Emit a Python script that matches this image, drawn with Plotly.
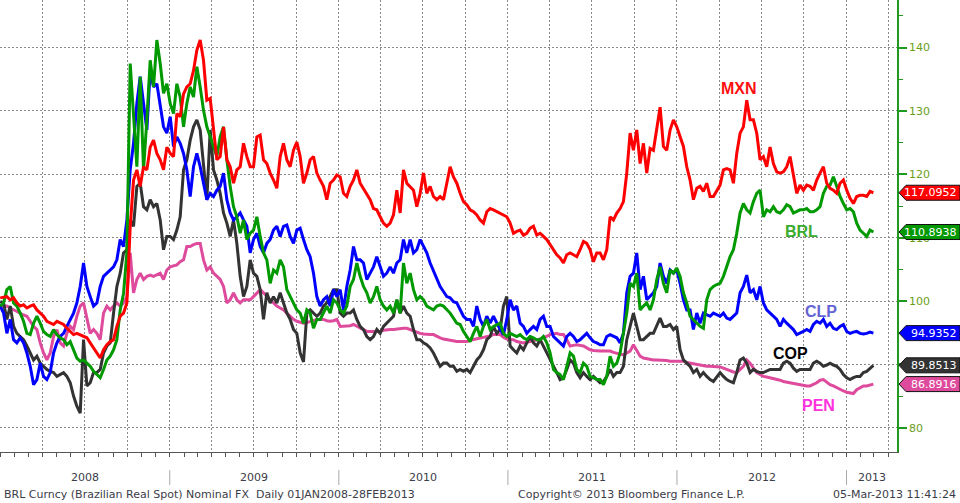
import pandas as pd
import plotly.graph_objects as go

# ---------------- data (index, start = 100) ----------------
N_POINTS = 263
START_DATE = "2008-01-01"
END_DATE = "2013-02-28"

mxn = [
    100.5,100.6,100.7,100.2,100.5,99.7,99.2,99.4,98.9,99.2, 99.4,98.6,98.1,97.6,96.8,96.5,96.3,96.8,96.5,96.3,
    95.7,95.2,94.7,94.9,94.7,94.4,94.2,93.4,92.6,91.8, 91.0,92.3,93.1,93.6,93.9,96.0,97.6,98.1,99.7,111.7,
    119.1,120.7,118.1,121.2,120.7,124.3,125.4,123.3,122.3,120.7, 124.3,
    123.3,122.8,129.6,129.1,132.7,133.8,134.3,136.4,139.6,141.2, 138.0,131.7,132.0,127.0,122.3,122.8,127.5,122.3,121.2,118.6,
    120.7,121.2,124.9,122.8,121.2,121.2,125.9,126.2,122.3,121.7, 120.2,119.1,117.8,122.8,124.9,122.3,121.2,123.8,125.1,122.8,
    118.6,120.2,122.3,122.8,120.2,119.1,118.1,116.0,118.6,119.1, 119.9,
    119.6,117.0,116.5,118.1,119.1,120.7,118.6,117.8,117.0,116.0, 114.6,114.4,113.3,112.3,111.8,112.3,113.6,117.5,113.9,120.7,
    118.6,118.1,117.5,114.9,117.0,120.2,117.0,118.1,116.5,116.0, 116.5,116.0,118.6,121.2,119.6,118.6,117.0,115.7,115.2,114.4,
    114.1,113.6,112.8,112.3,114.1,114.6,114.4,114.1,113.9,113.6, 113.3,
    112.3,110.7,111.0,111.2,110.4,110.7,111.5,111.8,110.4,110.7, 110.2,109.7,108.9,108.1,107.3,106.8,106.0,107.3,107.6,107.3,
    107.0,108.1,109.4,109.1,108.1,106.2,107.6,107.6,106.5,108.1, 113.3,112.8,113.9,114.6,115.7,120.2,126.5,123.8,127.0,121.7,
    124.9,120.2,124.1,123.8,127.0,130.6,124.4,123.8,127.0,128.6, 127.5,125.9,124.4,121.2,
    119.1,116.0,117.8,118.1,117.3,118.6,116.5,116.5,117.5,118.3, 120.7,120.9,120.7,118.6,123.3,126.5,127.5,131.7,128.6,128.6,
    126.5,122.3,122.8,121.2,124.3,121.7,120.4,120.2,120.4,121.2, 122.8,119.6,117.0,118.3,117.5,118.3,118.1,117.5,119.1,120.2,
    121.2,118.6,117.8,117.5,117.0,118.6,119.1,117.5,116.2,115.4, 116.5,116.7,116.7,116.5,117.3,117.0952,
]

brl = [
    99.2,99.7,101.8,102.3,99.7,99.2,98.1,96.8,94.9,94.7, 96.5,97.6,96.5,95.2,94.7,94.4,95.5,94.7,94.2,93.9,
    93.1,93.6,92.3,91.0,90.5,90.7,90.2,89.7,88.9,88.4, 87.9,89.2,90.7,91.3,92.3,93.9,98.6,101.2,107.6,137.5,
    129.1,121.2,135.4,120.7,128.6,138.0,133.8,141.2,137.5,132.8, 134.3,
    131.2,129.6,134.3,132.2,127.5,131.2,133.8,132.2,137.0,133.8, 130.1,127.5,125.9,124.4,122.8,125.9,127.5,122.3,118.1,114.9,
    113.3,110.7,112.8,109.7,110.7,111.2,113.3,110.2,107.6,106.5, 102.8,104.9,104.4,106.5,105.4,101.8,100.7,99.7,98.6,98.1,
    96.5,98.6,98.1,95.7,97.1,97.1,98.1,99.2,98.1,100.2, 99.7,
    98.6,98.1,99.2,102.3,103.4,106.0,103.9,102.3,101.3,99.7, 100.7,102.3,100.2,99.2,98.6,99.2,98.1,100.2,98.1,106.0,
    102.8,104.4,101.8,100.2,100.7,100.2,99.2,98.9,98.6,99.2, 99.4,99.2,98.6,98.1,97.3,96.5,96.3,95.2,94.4,93.6,
    94.9,96.0,94.4,96.0,97.1,95.5,96.0,96.3,96.5,94.9, 94.4,
    94.9,94.7,94.4,94.7,94.2,93.9,94.4,94.2,93.9,93.9, 94.4,93.4,91.8,89.2,88.7,88.4,87.6,89.7,91.8,91.3,
    89.2,88.7,90.2,89.7,88.1,87.9,87.6,87.6,86.8,88.1, 91.3,89.7,90.2,91.8,94.9,98.1,102.8,102.3,104.4,98.6,
    99.2,99.7,98.6,100.2,103.4,105.4,102.8,101.3,104.9,104.4, 105.2,103.9,101.3,99.7,
    97.6,97.1,96.5,96.0,95.7,100.2,101.8,102.3,102.6,102.8, 103.9,105.4,107.0,108.1,110.7,113.9,115.4,114.4,113.9,115.7,
    117.0,117.5,113.3,114.4,114.1,114.9,114.1,113.9,114.4,115.2, 114.9,113.9,114.1,114.4,114.4,114.6,114.1,114.1,114.4,114.9,
    117.0,118.1,118.3,119.6,118.1,116.5,115.4,114.4,114.6,114.1, 112.3,111.2,110.7,110.2,111.2,110.8938,
]

clp = [
    99.2,98.1,94.9,97.1,93.9,93.4,94.2,93.4,91.8,89.7, 86.8,87.6,90.2,88.1,87.6,88.7,91.8,93.4,94.4,94.9,
    96.0,97.1,98.1,99.7,102.3,106.0,102.3,100.7,99.2,99.7, 102.3,103.9,104.4,104.9,105.4,106.5,109.7,108.6,112.8,120.7,
    124.9,131.2,135.4,131.2,127.0,136.4,133.8,134.3,131.2,127.5, 126.5,
    129.1,124.4,125.9,124.9,123.3,120.7,116.5,121.2,123.3,121.2, 118.6,116.0,117.0,116.5,117.5,118.1,120.2,116.0,113.9,112.8,
    113.3,113.9,112.8,111.8,107.6,109.7,110.7,108.6,107.6,109.1, 109.7,111.2,111.8,110.2,111.8,112.0,110.2,109.1,111.2,111.5,
    109.7,108.1,107.0,104.4,100.7,99.2,100.2,100.7,99.2,101.8, 100.7,
    101.8,98.6,102.3,104.9,108.6,106.5,106.5,106.0,103.4,104.4, 105.4,107.0,105.4,103.9,104.4,105.4,104.4,106.0,106.5,109.7,
    107.6,109.7,107.6,108.1,109.7,108.6,107.6,106.0,104.7,103.6, 102.3,101.5,100.7,100.5,99.9,99.7,98.6,97.6,97.1,97.1,
    96.0,99.2,97.1,96.0,97.6,96.5,97.6,96.5,95.5,94.7, 97.1,
    100.2,98.6,99.2,96.5,96.0,94.9,95.5,96.0,95.5,97.1, 97.6,96.0,96.0,94.4,93.9,93.4,92.9,94.4,94.9,94.4,
    93.6,93.9,94.4,94.9,94.2,93.6,93.4,93.1,93.1,94.4, 94.7,94.4,94.2,93.4,94.9,101.3,103.9,104.4,107.6,101.8,
    103.9,100.2,100.7,101.3,102.3,106.0,103.9,102.8,104.9,104.4, 104.9,102.8,100.2,98.6,
    98.6,95.5,98.1,96.5,98.1,97.8,97.6,98.1,97.8,97.6, 98.1,97.3,97.1,97.6,98.1,101.3,102.3,104.1,101.3,101.8,
    100.2,102.3,99.7,98.6,98.1,97.6,97.1,96.0,97.1,96.5, 96.0,95.5,94.7,94.9,95.2,95.5,95.2,96.3,96.8,96.5,
    97.1,96.0,96.5,95.7,95.5,96.0,96.3,95.2,94.9,95.1, 95.2,94.9,94.8,94.9,95.1,94.9352,
]

cop = [
    99.9,99.7,97.1,99.2,96.0,94.9,94.4,93.9,92.9,91.8, 90.7,91.3,90.2,89.7,89.2,88.9,88.7,88.1,88.4,88.7,
    88.1,87.1,85.0,83.4,82.3,93.9,86.6,87.1,88.7,88.7, 89.2,91.8,92.9,93.4,98.1,102.3,104.4,107.6,108.1,112.8,
    111.8,118.1,118.6,114.9,114.4,116.0,114.9,115.4,112.8,108.1, 110.2,
    110.2,109.7,111.2,113.3,120.7,122.3,125.4,127.5,128.6,127.0, 121.2,116.0,127.0,120.7,119.1,117.0,113.9,112.3,110.2,112.8,
    109.1,103.9,100.7,102.3,106.5,104.4,103.9,101.8,97.1,101.3, 99.7,100.7,99.7,101.3,99.7,98.1,97.1,95.5,94.9,91.8,
    90.4,98.1,98.6,98.1,97.6,98.1,99.2,99.7,100.7,101.8, 101.8,
    98.1,97.6,98.1,98.1,98.6,97.1,96.0,95.5,94.4,93.9, 94.4,95.5,94.9,96.0,96.5,97.1,97.6,100.2,98.1,99.2,
    98.1,97.6,95.5,93.9,93.9,93.4,93.1,92.6,91.8,90.7, 89.7,90.2,90.2,89.7,89.7,88.9,89.2,88.9,89.2,88.7,
    89.7,90.7,91.3,92.3,93.9,94.4,96.0,94.9,95.5,99.2, 100.7,
    92.9,92.3,91.8,92.9,92.3,93.4,94.4,93.4,92.9,93.9, 92.9,91.8,90.7,89.7,88.7,87.6,87.9,89.2,90.7,90.2,
    88.7,87.9,88.7,88.1,87.6,88.1,87.6,87.1,87.3,88.1, 89.2,88.1,88.7,88.7,89.7,93.9,96.0,98.1,96.0,93.9,
    93.9,94.4,94.9,94.9,96.0,97.3,96.0,96.0,96.3,95.5, 96.0,92.3,90.7,90.2,
    89.7,88.7,89.2,88.1,88.7,88.1,87.6,87.3,88.1,88.7, 88.1,87.6,87.3,87.1,88.7,90.7,91.0,90.2,88.7,89.2,
    88.9,88.7,88.7,88.9,89.2,89.2,89.2,89.2,90.2,90.5, 90.2,89.4,88.9,89.2,89.2,89.2,89.2,90.2,90.5,90.2,
    89.7,89.9,90.2,89.9,89.7,89.2,88.4,87.9,87.6,87.9, 88.1,88.1,88.7,88.9,89.4,89.8513,
]

pen = [
    99.2,99.2,99.2,98.9,98.6,98.4,98.1,97.8,97.6,96.8, 96.0,95.5,93.4,91.8,90.7,91.8,94.4,95.5,93.4,92.9,
    94.9,96.0,95.5,97.6,99.2,99.7,97.1,94.9,95.5,94.9, 93.9,98.1,99.2,98.6,99.2,99.7,99.2,99.7,100.7,107.6,
    101.3,103.4,104.4,103.4,103.9,104.1,103.9,104.1,104.4,103.4, 104.9,
    105.4,105.6,105.7,106.2,106.5,108.6,108.6,108.9,109.1,109.1, 106.5,104.9,105.4,104.4,103.9,103.4,102.3,99.7,100.2,101.3,
    100.2,99.7,100.2,100.2,100.2,100.7,101.3,101.8,101.3,100.7, 100.2,99.7,99.2,98.9,98.6,98.1,97.6,97.1,96.8,96.6,
    96.5,96.6,96.8,96.9,97.1,97.1,97.1,96.9,96.8,96.9, 97.1,
    96.0,96.0,96.0,96.1,96.3,96.0,95.7,95.5,95.2,95.2, 95.2,95.2,95.2,95.4,95.5,95.5,95.5,95.6,95.7,95.7,
    95.7,95.5,95.2,95.1,94.9,94.8,94.7,94.7,94.7,94.4, 94.2,94.0,93.9,93.8,93.6,93.6,93.6,93.6,93.6,93.8,
    93.9,94.0,94.2,94.3,94.4,94.5,94.7,94.7,94.7,94.3, 94.0,
    93.9,93.9,93.6,93.5,93.4,93.5,93.6,93.8,93.9,94.0, 94.2,94.5,94.7,94.8,94.9,94.7,94.7,93.9,92.9,93.0,
    93.1,93.0,92.9,92.6,92.3,92.2,92.1,92.1,92.1,92.1, 92.1,91.9,91.8,91.6,91.5,91.8,92.1,93.1,92.1,91.3,
    91.0,90.9,90.7,90.7,90.7,90.7,90.7,90.6,90.5,90.5, 90.5,90.5,90.5,90.3,
    90.2,90.1,90.0,89.8,89.7,89.7,89.7,89.7,89.7,89.6, 89.4,89.2,88.9,88.8,88.7,89.2,89.7,90.7,90.2,89.4,
    88.7,88.4,88.1,88.0,87.9,87.7,87.6,87.5,87.3,87.2, 87.1,87.0,86.8,86.7,86.6,86.6,86.6,86.8,87.1,87.5,
    87.6,87.2,86.8,86.6,86.3,86.0,85.8,85.6,85.5,85.4, 86.0,86.3,86.6,86.6,86.8,86.8916,
]

dates = pd.date_range(START_DATE, END_DATE, periods=N_POINTS)

YEARS = [2008, 2009, 2010, 2011, 2012, 2013]
Y_TICKS = [80, 90, 100, 110, 120, 130, 140]
X_RANGE = ["2007-12-31 12:00", "2013-04-20"]
Y_RANGE = [76.17, 147.52]

series = [
    # name, values, line colour, tag colour, label colour, label pos (paper)
    ("PEN", pen, "#de4a9c", "#de4a9c", "#ff33dd", 0.913, 0.102),
    ("COP", cop, "#333333", "#333333", "#000000", 0.8815, 0.219),
    ("CLP", clp, "#0000ff", "#0000ff", "#6464d2", 0.915, 0.310),
    ("BRL", brl, "#009900", "#009900", "#3aab2e", 0.893, 0.487),
    ("MXN", mxn, "#ff0000", "#ff0000", "#ff1010", 0.824, 0.805),
]

for s in series:
    assert len(s[1]) == N_POINTS, (s[0], len(s[1]))

fig = go.Figure()
for name, vals, col, _, _, _, _ in series:
    fig.add_trace(go.Scatter(x=dates, y=vals, mode="lines", name=name,
                             line=dict(color=col, width=3), hoverinfo="skip"))

GRID = "#8a8a8a"
AXIS_GREEN = "#1f9a1f"
TXT = "#3c3c48"
FONT = "DejaVu Sans"

shapes = []
annotations = []

# last-value tags on the right
PLOT_W = 897.0
PX_PER_UNIT = 452.0 / (Y_RANGE[1] - Y_RANGE[0])
half_h = 7.5 / PX_PER_UNIT
x_tip, x_left, x_right = 899 / PLOT_W, 906 / PLOT_W, 960 / PLOT_W
for name, vals, col, tagcol, _, _, _ in series:
    v = vals[-1]
    path = (f"M {x_tip},{v} L {x_left},{v + half_h} L {x_right},{v + half_h} "
            f"L {x_right},{v - half_h} L {x_left},{v - half_h} Z")
    shapes.append(dict(type="path", xref="paper", yref="y", path=path,
                       fillcolor=tagcol, line=dict(color="#111111", width=1), layer="above"))
    annotations.append(dict(xref="paper", yref="y", x=959 / PLOT_W, y=v, xanchor="right",
                            yanchor="middle", text=f"{v:.4f}", showarrow=False,
                            font=dict(family=FONT, size=11, color="white")))

# series labels
for name, vals, col, tagcol, labcol, lx, ly in series:
    annotations.append(dict(xref="paper", yref="paper", x=lx, y=ly, text=f"<b>{name}</b>",
                            showarrow=False, xanchor="center", yanchor="middle",
                            font=dict(family="Liberation Sans", size=16, color=labcol)))

# year labels and separators
x_end = pd.Timestamp(X_RANGE[1])
for yr in YEARS:
    a = pd.Timestamp(f"{yr}-01-01")
    b = min(pd.Timestamp(f"{yr + 1}-01-01"), x_end)
    mid = a + (b - a) / 2
    annotations.append(dict(xref="x", yref="paper", x=mid, y=-0.0575, text=str(yr),
                            showarrow=False, yanchor="middle",
                            font=dict(family=FONT, size=11, color=TXT)))
    if yr > YEARS[0]:
        shapes.append(dict(type="line", xref="x", yref="paper", x0=a, x1=a, y0=-0.040, y1=-0.073,
                           line=dict(color="#a8a8a8", width=1)))

# footer
footer_y = -0.093
annotations += [
    dict(xref="paper", yref="paper", x=2 / PLOT_W, y=footer_y, xanchor="left", yanchor="middle",
         text="BRL Curncy (Brazilian Real Spot) Nominal FX  Daily 01JAN2008-28FEB2013",
         showarrow=False, font=dict(family=FONT, size=11, color=TXT)),
    dict(xref="paper", yref="paper", x=516 / PLOT_W, y=footer_y, xanchor="left", yanchor="middle",
         text="Copyright\u00a9 2013 Bloomberg Finance L.P.",
         showarrow=False, font=dict(family=FONT, size=11, color=TXT)),
    dict(xref="paper", yref="paper", x=958 / PLOT_W, y=footer_y, xanchor="right", yanchor="middle",
         text="05-Mar-2013 11:41:24",
         showarrow=False, font=dict(family=FONT, size=11, color=TXT)),
]

fig.update_layout(
    template="none",
    width=960, height=503,
    margin=dict(l=0, r=63, t=0, b=51, pad=0),
    paper_bgcolor="white", plot_bgcolor="white",
    showlegend=False,
    font=dict(family=FONT, size=11, color=TXT),
    xaxis=dict(
        type="date", range=X_RANGE, automargin=False,
        tick0="2008-01-01", dtick="M3",
        showgrid=True, gridcolor=GRID, gridwidth=1, griddash="2px,2px",
        ticks="outside", ticklen=4, tickcolor="#555555", tickwidth=1,
        showticklabels=False, zeroline=False,
        showline=True, linecolor="#555555", linewidth=1,
        minor=dict(dtick="M1", tick0="2008-01-01", ticks="outside", ticklen=4,
                   tickcolor="#555555", tickwidth=1, showgrid=False),
    ),
    yaxis=dict(
        side="right", range=Y_RANGE, automargin=False,
        tickmode="array", tickvals=Y_TICKS, ticktext=[str(t) for t in Y_TICKS],
        showgrid=True, gridcolor=GRID, gridwidth=1, griddash="2px,2px",
        ticks="outside", ticklen=8, tickwidth=2, tickcolor=AXIS_GREEN,
        tickfont=dict(family=FONT, size=11, color="#6a9e1a"),
        zeroline=False, showline=True, linecolor=AXIS_GREEN, linewidth=1.5,
        minor=dict(dtick=5, tick0=75, ticks="outside", ticklen=4, tickcolor=AXIS_GREEN,
                   tickwidth=1, showgrid=False),
    ),
    shapes=shapes,
    annotations=annotations,
)

fig.write_html("out.html")
